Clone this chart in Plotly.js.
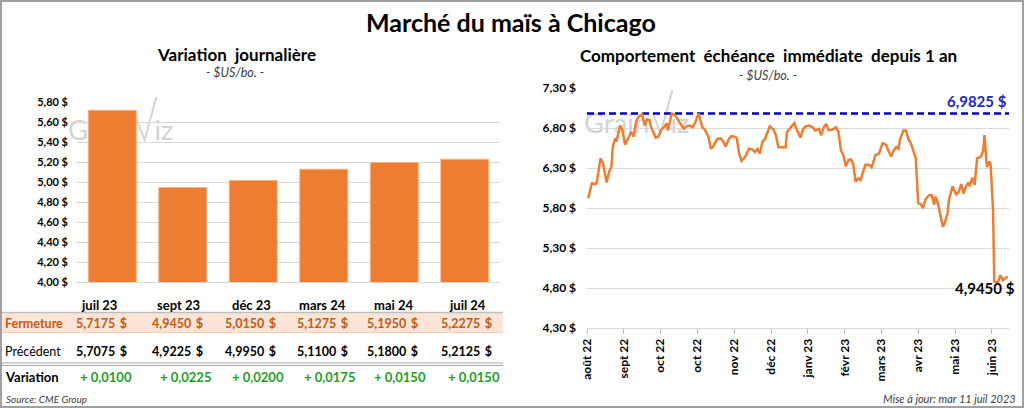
<!DOCTYPE html>
<html>
<head>
<meta charset="utf-8">
<script src="https://cdn.plot.ly/plotly-3.0.1.min.js"></script>
<style>html,body{margin:0;padding:0;background:#fff;}#chart{width:1024px;height:408px;}</style>
</head>
<body>
<div id="chart"></div>
<script>
// ---------- DATA ----------
const contracts = ['juil 23','sept 23','déc 23','mars 24','mai 24','juil 24'];
const closePrices = [5.7175, 4.9450, 5.0150, 5.1275, 5.1950, 5.2275];
const prevPrices = [5.7075, 4.9225, 4.9950, 5.1100, 5.1800, 5.2125];
const variations = [0.0100, 0.0225, 0.0200, 0.0175, 0.0150, 0.0150];
const barTickVals = [4.0, 4.2, 4.4, 4.6, 4.8, 5.0, 5.2, 5.4, 5.6, 5.8];

const lineDates = ['2022-08-03','2022-08-06','2022-08-09','2022-08-10','2022-08-13','2022-08-15','2022-08-18','2022-08-20','2022-08-22','2022-08-23','2022-08-25','2022-08-26','2022-08-29','2022-08-31',
'2022-09-02','2022-09-05','2022-09-07','2022-09-09','2022-09-11','2022-09-13','2022-09-16','2022-09-18','2022-09-20','2022-09-22','2022-09-23','2022-09-27','2022-09-29',
'2022-10-02','2022-10-04','2022-10-06','2022-10-07','2022-10-10','2022-10-13','2022-10-16','2022-10-20','2022-10-22','2022-10-25','2022-10-27','2022-10-29',
'2022-11-01','2022-11-04','2022-11-06','2022-11-09','2022-11-11','2022-11-13','2022-11-16','2022-11-19','2022-11-21','2022-11-23','2022-11-26','2022-11-28',
'2022-12-02','2022-12-04','2022-12-06','2022-12-09','2022-12-12','2022-12-15','2022-12-17','2022-12-19','2022-12-21','2022-12-23','2022-12-25','2022-12-27','2022-12-29',
'2023-01-01','2023-01-03','2023-01-05','2023-01-08','2023-01-11','2023-01-12','2023-01-15','2023-01-18','2023-01-20','2023-01-23','2023-01-25','2023-01-27','2023-01-30',
'2023-02-02','2023-02-04','2023-02-07','2023-02-09','2023-02-11','2023-02-13','2023-02-15','2023-02-18','2023-02-21','2023-02-23','2023-02-25','2023-02-27',
'2023-03-01','2023-03-03','2023-03-05','2023-03-07','2023-03-09','2023-03-11','2023-03-13','2023-03-15','2023-03-17','2023-03-20','2023-03-22','2023-03-24','2023-03-25','2023-03-28','2023-03-31',
'2023-04-03','2023-04-04','2023-04-07','2023-04-09','2023-04-11','2023-04-13','2023-04-14','2023-04-17','2023-04-19','2023-04-21','2023-04-23','2023-04-26','2023-04-27','2023-04-29',
'2023-05-01','2023-05-03','2023-05-05','2023-05-08','2023-05-10','2023-05-12','2023-05-13','2023-05-15','2023-05-17','2023-05-19','2023-05-20','2023-05-23','2023-05-24','2023-05-27','2023-05-30',
'2023-06-01','2023-06-03','2023-06-05','2023-06-07','2023-06-09','2023-06-10','2023-06-12','2023-06-14','2023-06-16','2023-06-19','2023-06-21','2023-06-22','2023-06-24','2023-06-26','2023-06-27','2023-06-29','2023-06-30',
'2023-07-03','2023-07-05','2023-07-07','2023-07-10','2023-07-11'];
const lineValues = [5.92,6.11,6.10,6.12,6.42,6.36,6.12,6.25,6.32,6.56,6.67,6.63,6.83,6.77,
6.59,6.69,6.75,6.69,6.88,6.94,6.97,6.83,6.91,6.90,6.82,6.68,6.69,
6.79,6.81,6.86,6.77,6.98,6.96,6.88,6.79,6.82,6.83,6.81,6.86,
6.9825,6.81,6.78,6.69,6.54,6.57,6.66,6.67,6.63,6.57,6.67,6.70,
6.68,6.48,6.39,6.44,6.54,6.53,6.50,6.54,6.48,6.63,6.66,6.73,6.82,
6.78,6.71,6.56,6.56,6.56,6.75,6.81,6.86,6.78,6.68,6.78,6.82,6.83,
6.81,6.77,6.79,6.71,6.81,6.85,6.77,6.78,6.81,6.75,6.52,6.46,
6.32,6.40,6.41,6.35,6.13,6.17,6.15,6.25,6.34,6.34,6.31,6.40,6.46,6.48,6.61,
6.59,6.54,6.44,6.52,6.56,6.54,6.65,6.77,6.77,6.66,6.61,6.48,6.42,5.86,
5.85,5.80,5.91,5.96,5.96,5.84,5.94,5.86,5.73,5.57,5.59,5.73,5.90,6.07,5.97,
6.00,6.10,5.98,6.07,6.12,6.07,6.18,6.09,6.42,6.44,6.52,6.71,6.31,6.38,6.35,5.78,4.88,
4.87,4.96,4.90,4.93,4.945];
const yearHigh = 6.9825;
const lastValue = 4.9450;
const lineRange = ['2022-08-02','2023-07-12'];
const lineTickDates = ['2022-08-02','2022-09-01','2022-10-01','2022-10-31','2022-11-30','2022-12-30','2023-01-29','2023-02-28','2023-03-30','2023-04-29','2023-05-29','2023-06-28'];
const lineTickText = ['août 22','sept 22','oct 22','oct 22','nov 22','déc 22','janv 23','févr 23','mars 23','avr 23','mai 23','juin 23'];
const lineTickVals = [4.3, 4.8, 5.3, 5.8, 6.3, 6.8, 7.3];

// ---------- HELPERS ----------
const W = 1024, H = 408;
const px = x => x / W;
const py = y => 1 - y / H;
const fr = (v, d) => v.toFixed(d).replace('.', ',');
const FONT = 'Lato, "Open Sans", sans-serif';
const ORANGE = '#ED7D31';
const NB = '\u00A0';
const ZW = '\u200C'; // prevents the "ti" ligature

const annotations = [];
function label(text, x, y, opts) {
  annotations.push(Object.assign({
    text: text, xref: 'paper', yref: 'paper', x: px(x), y: py(y),
    xanchor: 'center', yanchor: 'middle', showarrow: false,
    font: {family: FONT, size: 13, color: '#000'}
  }, opts || {}));
}

// Titles
label('Marché du maïs à Chicago', 511, 22, {font: {family: FONT, size: 25, color: '#000', weight: 'bold'}});
label('Varia' + ZW + 'tion' + NB + NB + 'journalière', 236, 55, {font: {family: FONT, size: 17, color: '#000', weight: 'bold'}});
label('- $US/bo. -', 235, 72, {font: {family: FONT, size: 12.5, color: '#404040', style: 'italic'}});
label('Comportement' + NB + NB + 'échéance' + NB + NB + 'immédiate' + NB + NB + 'depuis 1 an', 768, 56, {font: {family: FONT, size: 17, color: '#000', weight: 'bold'}});
label('- $US/bo. -', 768, 75, {font: {family: FONT, size: 12.5, color: '#404040', style: 'italic'}});

// Table
const headerX = [99, 178, 251, 322, 393, 467];
const valueRight = [129, 205, 278, 350, 420, 494];
const tf = (color, weight, size) => ({family: FONT, size: size || 12.5, color: color, weight: weight || 'bold'});
const money = v => fr(v, 4) + NB + '\u2009' + '$';
contracts.forEach((c, i) => label(c, headerX[i], 305, {font: tf('#000', 'bold', 13)}));
label('Fermeture', 3, 323, {xanchor: 'left', font: tf('#C55A11')});
label('Précédent', 3, 351, {xanchor: 'left', font: tf('#000', 'normal')});
label('Varia' + ZW + 'tion', 3, 377, {xanchor: 'left', font: tf('#000', 'bold', 13)});
closePrices.forEach((v, i) => label(money(v), valueRight[i], 323, {xanchor: 'right', font: tf('#C55A11')}));
prevPrices.forEach((v, i) => label(money(v), valueRight[i], 351, {xanchor: 'right', font: tf('#000')}));
variations.forEach((v, i) => label((v >= 0 ? '+ ' : '- ') + fr(Math.abs(v), 4), headerX[i] + 7, 377, {font: tf('#1E9E1E', 'bold', 13)}));
label('Source: CME Group', 4, 399, {xanchor: 'left', font: {family: FONT, size: 10, color: '#404040', style: 'italic'}});
label('Mise à jour: mar 11 juil 2023', 1018, 398, {xanchor: 'right', font: {family: FONT, size: 11, color: '#404040', style: 'italic'}});

// Right chart labels
label(fr(yearHigh, 4) + NB + '$', 1009, 101, {xanchor: 'right', font: {family: FONT, size: 15, color: '#2424C0', weight: 'bold'}});
label(fr(lastValue, 4) + NB + '$', 1017, 288, {xanchor: 'right', font: {family: FONT, size: 15, color: '#000', weight: 'bold'}});

const shapes = [
  {type: 'rect', xref: 'paper', yref: 'paper', x0: px(0), x1: px(503), y0: py(332), y1: py(313), fillcolor: '#FCE4D6', line: {width: 0}, layer: 'below'},
  {type: 'line', xref: 'paper', yref: 'paper', x0: px(0), x1: px(503), y0: py(312.5), y1: py(312.5), line: {color: '#BFBFBF', width: 1.5}},
  {type: 'line', xref: 'paper', yref: 'paper', x0: px(0), x1: px(503), y0: py(332.5), y1: py(332.5), line: {color: '#F4CDB3', width: 1}},
  {type: 'line', xref: 'paper', yref: 'paper', x0: px(0), x1: px(503), y0: py(363), y1: py(363), line: {color: '#A6A6A6', width: 1}},
  {type: 'line', xref: 'paper', yref: 'paper', x0: px(0), x1: px(503), y0: py(365.5), y1: py(365.5), line: {color: '#A6A6A6', width: 1}},
  {type: 'rect', xref: 'paper', yref: 'paper', x0: px(1), x1: px(1023), y0: py(407), y1: py(1), line: {color: '#A0A0A0', width: 2}}
];

// Watermark
function wm(w, h) {
  const svg = "<svg xmlns='http://www.w3.org/2000/svg' width='" + w + "' height='" + h + "' viewBox='0 0 110 52'>" +
    "<text x='0' y='47' font-family='Lato, sans-serif' font-size='28' fill='#D3D3D3'>Grain</text>" +
    "<path d='M70 26 L78 47 L90 2' stroke='#D3D3D3' stroke-width='2' fill='none'/>" +
    "<text x='88' y='47' font-family='Lato, sans-serif' font-size='28' fill='#D3D3D3'>iz</text></svg>";
  return 'data:image/svg+xml;utf8,' + encodeURIComponent(svg);
}
const images = [
  {source: wm(110, 52), xref: 'paper', yref: 'paper', x: px(68), y: py(95), sizex: 108 / W, sizey: 50 / H, xanchor: 'left', yanchor: 'top', sizing: 'stretch', layer: 'below'},
  {source: wm(110, 52), xref: 'paper', yref: 'paper', x: px(584), y: py(88), sizex: 108 / W, sizey: 50 / H, xanchor: 'left', yanchor: 'top', sizing: 'stretch', layer: 'below'}
];

const traces = [
  {type: 'bar', x: contracts, y: closePrices, xaxis: 'x', yaxis: 'y',
   marker: {color: ORANGE, line: {color: '#F4B183', width: 1}}, hoverinfo: 'skip'},
  {type: 'scatter', mode: 'lines', x: lineRange, y: [yearHigh, yearHigh], xaxis: 'x2', yaxis: 'y2',
   line: {color: '#0000C0', width: 2.5, dash: '7px,4px'}, hoverinfo: 'skip'},
  {type: 'scatter', mode: 'lines', x: lineDates, y: lineValues, xaxis: 'x2', yaxis: 'y2',
   line: {color: ORANGE, width: 2.5}, hoverinfo: 'skip'}
];

const layout = {
  width: W, height: H, margin: {l: 0, r: 0, t: 0, b: 0},
  paper_bgcolor: 'rgba(0,0,0,0)', plot_bgcolor: 'rgba(0,0,0,0)',
  showlegend: false, bargap: 0.32,
  xaxis: {domain: [px(77), px(500)], anchor: 'y', type: 'category', showticklabels: false, showgrid: false, zeroline: false,
          showline: true, linecolor: '#D9D9D9', linewidth: 1, ticks: '', fixedrange: true},
  yaxis: {domain: [py(282), py(102)], anchor: 'x', range: [4, 5.8], tickvals: barTickVals, ticktext: barTickVals.map(v => fr(v, 2) + ' $'),
          showgrid: true, gridcolor: '#D9D9D9', gridwidth: 1, zeroline: false, showline: false, ticks: '',
          tickfont: {family: FONT, size: 11, color: '#000', weight: 'bold'}, ticklabelstandoff: 8, fixedrange: true},
  xaxis2: {domain: [px(587), px(1009)], anchor: 'y2', type: 'date', range: lineRange, tickvals: lineTickDates, ticktext: lineTickText,
           tickangle: -90, ticks: 'outside', ticklen: 5, tickcolor: '#BFBFBF', showgrid: false, zeroline: false,
           showline: true, linecolor: '#D9D9D9', linewidth: 1, tickfont: {family: FONT, size: 12, color: '#000', weight: 'bold'}, fixedrange: true},
  yaxis2: {domain: [py(328), py(88)], anchor: 'x2', range: [4.3, 7.3], tickvals: lineTickVals, ticktext: lineTickVals.map(v => fr(v, 2) + ' $'),
           showgrid: true, gridcolor: '#D9D9D9', gridwidth: 1, zeroline: false, showline: false, ticks: '',
           tickfont: {family: FONT, size: 12, color: '#000', weight: 'bold'}, ticklabelstandoff: 10, fixedrange: true},
  annotations: annotations, shapes: shapes, images: images
};

Plotly.newPlot('chart', traces, layout, {staticPlot: true, displayModeBar: false});
</script>
</body>
</html>
